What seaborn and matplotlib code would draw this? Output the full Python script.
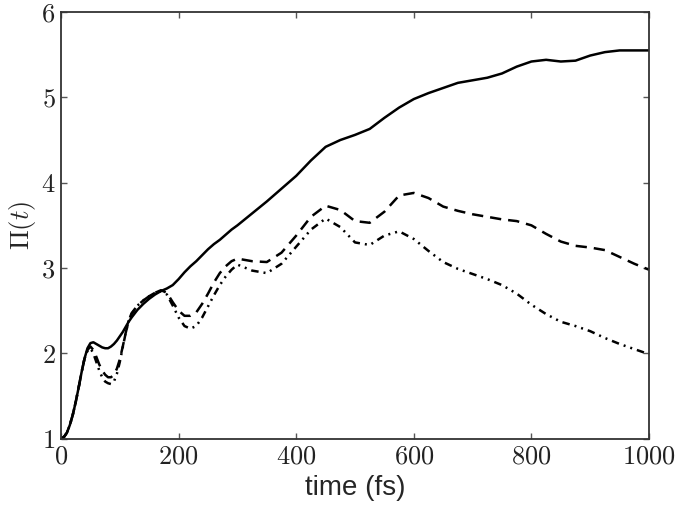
import numpy as np
import pandas as pd
import matplotlib
matplotlib.use("Agg")
import matplotlib.pyplot as plt
from matplotlib.ticker import FuncFormatter
import seaborn as sns

# time grid (fs): fine at early times where the curves wiggle
time_fs = list(range(0, 125, 5)) + list(range(130, 310, 10)) + list(range(325, 1025, 25))

# Pi(t) values
pi_solid = [1.0, 1.02, 1.07, 1.16, 1.28, 1.43, 1.6, 1.78, 1.94, 2.06, 2.12, 2.13, 2.11,
            2.09, 2.07, 2.06, 2.06, 2.08, 2.11, 2.15, 2.2, 2.25, 2.31, 2.37, 2.42,
            2.51, 2.58, 2.64, 2.69, 2.73, 2.76, 2.8, 2.87, 2.95, 3.02, 3.08, 3.15, 3.22,
            3.28, 3.33, 3.39, 3.45, 3.5,
            3.64, 3.78, 3.93, 4.08, 4.26, 4.42, 4.5, 4.56, 4.63, 4.76, 4.88, 4.98, 5.05,
            5.11, 5.17, 5.2, 5.23, 5.28, 5.36, 5.42, 5.44, 5.42, 5.43, 5.49, 5.53, 5.55,
            5.55, 5.55]

pi_dashed = [1.0, 1.02, 1.07, 1.16, 1.28, 1.43, 1.6, 1.78, 1.94, 2.04, 2.08, 2.04, 1.96,
             1.87, 1.8, 1.75, 1.72, 1.72, 1.75, 1.82, 1.93, 2.08, 2.24, 2.38, 2.47,
             2.56, 2.62, 2.67, 2.71, 2.74, 2.71, 2.6, 2.5, 2.44, 2.44, 2.48, 2.58, 2.7,
             2.83, 2.94, 3.02, 3.08, 3.11,
             3.08, 3.07, 3.18, 3.38, 3.6, 3.73, 3.68, 3.55, 3.53, 3.66, 3.85, 3.88, 3.82,
             3.72, 3.67, 3.63, 3.6, 3.57, 3.55, 3.5, 3.4, 3.31, 3.26, 3.24, 3.21, 3.13,
             3.05, 2.98]

pi_dashdot = [1.0, 1.02, 1.07, 1.16, 1.28, 1.43, 1.6, 1.78, 1.94, 2.03, 2.06, 2.0, 1.9,
              1.8, 1.72, 1.67, 1.65, 1.64, 1.67, 1.76, 1.9, 2.07, 2.24, 2.38, 2.46,
              2.56, 2.62, 2.67, 2.71, 2.73, 2.69, 2.56, 2.42, 2.32, 2.29, 2.32, 2.42, 2.55,
              2.68, 2.8, 2.9, 2.98, 3.04,
              2.97, 2.94, 3.05, 3.25, 3.45, 3.58, 3.48, 3.3, 3.27, 3.38, 3.43, 3.34, 3.2,
              3.07, 2.99, 2.93, 2.87, 2.8, 2.7, 2.57, 2.46, 2.37, 2.32, 2.26, 2.18, 2.11,
              2.05, 1.99]

x_ticks = [0, 200, 400, 600, 800, 1000]
y_ticks = [1, 2, 3, 4, 5, 6]

sns.set_style("ticks")
plt.rcParams['mathtext.fontset'] = 'cm'
plt.rcParams['font.family'] = ['Liberation Sans', 'DejaVu Sans']

n = len(time_fs)
df = pd.DataFrame({"time": time_fs * 3,
                   "pi": pi_solid + pi_dashed + pi_dashdot,
                   "curve": ["a"] * n + ["b"] * n + ["c"] * n})

fig = plt.figure(figsize=(6.75, 5.05), dpi=100)
ax = fig.add_axes([0.0904, 0.1313, 0.8711, 0.8449])

styles = {"a": "-", "b": (0, (4.5, 2.8)), "c": (0, (3, 2, 0.8, 2, 0.8, 2))}
for name, sub in df.groupby("curve"):
    sns.lineplot(data=sub, x="time", y="pi", ax=ax, color="black", lw=1.8,
                 linestyle=styles[name], legend=False)

ax.set_xlim(0, 1000)
ax.set_ylim(1, 6)
ax.set_xticks(x_ticks)
ax.set_yticks(y_ticks)
fmt = FuncFormatter(lambda v, p: r"$%d$" % v)
ax.xaxis.set_major_formatter(fmt)
ax.yaxis.set_major_formatter(fmt)
ax.tick_params(direction="in", length=4, width=1, color="#555555",
               top=True, right=True, labelsize=19, pad=4, labelcolor="#222222")
for s in ax.spines.values():
    s.set_color("#333333")
    s.set_linewidth(1.3)

ax.set_xlabel("time (fs)", fontsize=20, labelpad=5)
ax.set_ylabel(r"$\Pi(t)$", fontsize=19, labelpad=2)

fig.savefig("out.png", dpi=100)
